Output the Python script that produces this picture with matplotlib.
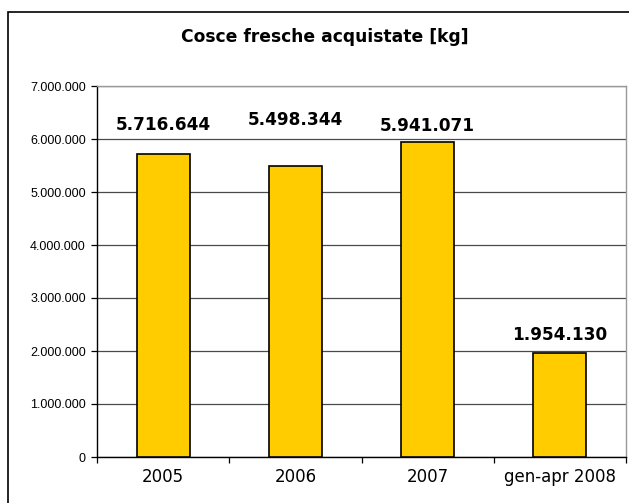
import matplotlib
matplotlib.use("Agg")
import matplotlib.pyplot as plt
from matplotlib.patches import Rectangle
import numpy as np

categories = ["2005", "2006", "2007", "gen-apr 2008"]
values = [5716644, 5498344, 5941071, 1954130]
yticks = [0, 1000000, 2000000, 3000000, 4000000, 5000000, 6000000, 7000000]
title = "Cosce fresche acquistate [kg]"

# label offsets above bar tops (pixels), manual placement as in reference
label_offsets_px = [29, 46, 16, 18]

def fmt(v):
    return f"{v:,.0f}".replace(",", ".")

fig = plt.figure(figsize=(6.29, 5.03), dpi=100)
fig.patch.set_facecolor("white")

# outer chart frame (extends beyond right/bottom edge)
fig.patches.append(Rectangle((8/629, -0.05), 1.2, 1 - 12/503 + 0.05,
                             transform=fig.transFigure, fill=False,
                             edgecolor="black", linewidth=1.2))

ax = fig.add_axes([97/629, 46/503, 529/629, 371/503])
x = np.arange(len(categories))
ax.bar(x, values, width=0.4, color="#FFCC00", edgecolor="black",
       linewidth=1.2, zorder=3)

ax.set_xlim(-0.5, len(categories) - 0.5)
ax.set_ylim(0, 7000000)
ax.set_yticks(yticks)
ax.set_yticklabels([fmt(v) for v in yticks], fontfamily="Liberation Sans",
                   fontsize=9)
ax.yaxis.grid(True, color="#4a4a4a", linewidth=0.9, zorder=0)
ax.set_axisbelow(True)

ax.set_xticks(x)
ax.set_xticklabels(categories, fontfamily="DejaVu Sans", fontsize=12)
ax.set_xticks(np.arange(len(categories) + 1) - 0.5, minor=True)
ax.tick_params(axis="x", which="major", length=0, pad=8)
ax.tick_params(axis="x", which="minor", length=4, width=0.9, direction="out")
ax.tick_params(axis="y", length=4, width=0.9, direction="out", pad=4)

for side in ["left", "bottom"]:
    ax.spines[side].set_color("black")
    ax.spines[side].set_linewidth(1.0)
for side in ["top", "right"]:
    ax.spines[side].set_color("#999999")
    ax.spines[side].set_linewidth(1.0)

for xi, v, off in zip(x, values, label_offsets_px):
    ax.annotate(fmt(v), (xi, v), xytext=(0, off * 0.72),
                textcoords="offset points", ha="center", va="center",
                fontsize=12.2, fontweight="bold", fontfamily="DejaVu Sans")

fig.text(325/629, 1 - 37/503, title, ha="center", va="center",
         fontsize=12.3, fontweight="bold", fontfamily="DejaVu Sans")

fig.savefig("out.png", dpi=100)
